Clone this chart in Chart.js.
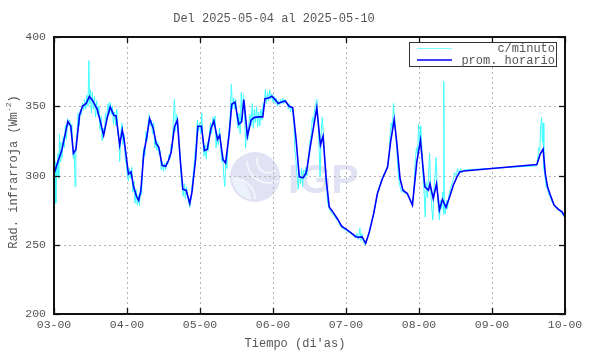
<!DOCTYPE html>
<html><head><meta charset="utf-8">
<script src="https://cdn.jsdelivr.net/npm/chart.js@4"></script>
<style>html,body{margin:0;padding:0;background:#fff}#wrap{width:590px;height:354px}</style>
</head><body><div id="wrap"><canvas id="c" width="590" height="354"></canvas></div>
<script>
const titleText = "Del 2025-05-04 al 2025-05-10";
const xTitle = "Tiempo (di'as)";
const yTitleMain = "Rad. infrarroja (Wm";
const yTitleSup = "-2";
const yTitleEnd = ")";
const legendLabels = ["c/minuto", "prom. horario"];
const xTickDays = [3,4,5,6,7,8,9,10];
const yTickVals = [200,250,300,350,400];

const hourlyDays = [3.00,3.045,3.106,3.15,3.19,3.23,3.266,3.30,3.35,3.39,3.44,3.485,3.53,3.59,3.63,3.68,3.73,3.77,3.82,3.85,3.90,3.935,3.96,4.02,4.055,4.09,4.13,4.16,4.19,4.23,4.275,4.31,4.36,4.40,4.435,4.48,4.53,4.57,4.605,4.65,4.69,4.73,4.765,4.81,4.86,4.89,4.94,4.97,5.02,5.06,5.10,5.15,5.19,5.24,5.27,5.315,5.35,5.40,5.435,5.48,5.53,5.57,5.60,5.65,5.70,5.74,5.80,5.86,5.89,5.94,5.985,6.03,6.07,6.12,6.17,6.22,6.27,6.315,6.36,6.41,6.45,6.466,6.51,6.56,6.60,6.65,6.686,6.73,6.77,6.82,6.88,6.94,7.02,7.07,7.13,7.17,7.22,7.27,7.32,7.38,7.43,7.50,7.57,7.61,7.66,7.69,7.74,7.78,7.84,7.91,7.97,8.02,8.08,8.13,8.15,8.195,8.24,8.28,8.32,8.37,8.42,8.47,8.52,8.56,8.61,9.615,9.66,9.70,9.73,9.76,9.80,9.85,9.91,9.96,10.0];
const hourlyVals = [301,308.6,318,329,339,335.6,316,318.8,343.5,350,352,357,354,348,340,329,342,349.5,343.5,343,322,333,326,301,302.6,292,285,282,289,316,329,341,334,323,320.6,307.4,306.7,311,317,335,340,311,290,289.4,280,288,312,335.6,335.6,318,318.8,334,339.4,326,329,311.5,309,330,351.4,353,337,338.7,354.8,328.4,340,341.8,342.3,342.3,355.5,356,357.2,354.8,352,353,353.8,350,349,326.7,299,298.3,301.4,305,320.6,336.3,349,322,328.4,296.6,277.3,273.7,269,263.4,260.5,258.6,256,255.3,255.7,251,259.3,272.6,287,297.8,306.2,324,340.4,326.7,297.8,289.4,287,278.6,309.8,325.5,291.8,289.4,294,283.4,294,275,282.7,277,284.6,293,299,302.6,303.3,307.9,315.4,319,301.4,291.8,285.8,278.6,275.5,273.7,270];

const minuteDays = [3.000,3.008,3.015,3.025,3.035,3.045,3.055,3.065,3.075,3.085,3.095,3.110,3.125,3.140,3.155,3.170,3.185,3.200,3.215,3.230,3.245,3.255,3.266,3.278,3.289,3.300,3.315,3.330,3.345,3.360,3.375,3.390,3.405,3.420,3.435,3.450,3.465,3.478,3.488,3.500,3.512,3.525,3.540,3.555,3.570,3.585,3.600,3.615,3.630,3.645,3.660,3.675,3.690,3.705,3.720,3.740,3.755,3.770,3.785,3.800,3.815,3.830,3.845,3.860,3.875,3.890,3.900,3.915,3.930,3.945,3.960,3.975,3.990,4.005,4.020,4.035,4.050,4.065,4.080,4.095,4.110,4.125,4.140,4.155,4.170,4.185,4.200,4.215,4.230,4.245,4.260,4.275,4.290,4.305,4.320,4.335,4.350,4.365,4.380,4.395,4.410,4.425,4.440,4.455,4.470,4.485,4.500,4.515,4.530,4.545,4.560,4.575,4.590,4.605,4.620,4.635,4.650,4.665,4.680,4.695,4.710,4.725,4.740,4.755,4.770,4.785,4.800,4.815,4.830,4.845,4.860,4.875,4.890,4.905,4.920,4.935,4.950,4.965,4.980,4.995,5.010,5.025,5.040,5.055,5.070,5.085,5.100,5.115,5.130,5.145,5.160,5.175,5.190,5.205,5.220,5.235,5.250,5.265,5.280,5.295,5.310,5.325,5.340,5.355,5.370,5.385,5.400,5.415,5.430,5.445,5.460,5.475,5.490,5.505,5.520,5.535,5.550,5.565,5.580,5.595,5.610,5.625,5.640,5.655,5.670,5.685,5.700,5.715,5.730,5.745,5.760,5.775,5.790,5.805,5.820,5.835,5.850,5.865,5.880,5.895,5.910,5.925,5.940,5.955,5.970,5.985,6.000,6.015,6.030,6.045,6.060,6.075,6.090,6.105,6.120,6.135,6.150,6.165,6.180,6.195,6.210,6.225,6.240,6.255,6.270,6.285,6.300,6.315,6.330,6.345,6.360,6.375,6.390,6.405,6.420,6.435,6.450,6.465,6.480,6.495,6.510,6.525,6.540,6.555,6.570,6.585,6.600,6.615,6.630,6.645,6.660,6.675,6.690,6.705,6.720,6.735,6.750,6.770,6.790,6.810,6.830,6.850,6.870,6.890,6.910,6.930,6.950,6.980,7.010,7.040,7.070,7.100,7.130,7.150,7.170,7.190,7.205,7.220,7.240,7.260,7.280,7.300,7.330,7.360,7.390,7.420,7.450,7.480,7.510,7.540,7.570,7.590,7.605,7.620,7.635,7.650,7.665,7.680,7.695,7.710,7.725,7.740,7.760,7.780,7.800,7.820,7.840,7.870,7.895,7.910,7.930,7.950,7.965,7.980,7.995,8.010,8.025,8.040,8.055,8.070,8.085,8.100,8.115,8.130,8.145,8.160,8.175,8.190,8.205,8.220,8.235,8.250,8.265,8.280,8.295,8.310,8.325,8.335,8.340,8.345,8.360,8.375,8.390,8.410,8.430,8.450,8.470,8.490,8.510,8.530,8.550,8.570,8.590,8.610,9.610,9.625,9.640,9.655,9.665,9.680,9.690,9.700,9.710,9.725,9.740,9.760,9.780,9.800,9.830,9.860,9.890,9.920,9.950,9.980,10.000];
const minuteVals = [318,290,310,280,305,300,316,298,330,310,324,313,328,320,336,326,341,336,340,332,337,322,312,318,292,322,330,345,336,348,344,352,347,355,348,358,350,383,352,362,345,360,348,357,342,354,344,350,333,343,325,334,330,345,338,352,344,353,344,350,337,346,336,348,330,326,310,330,338,322,330,312,308,300,296,305,298,306,288,296,280,290,279,286,278,292,286,312,320,314,332,325,338,344,336,340,330,338,320,326,318,324,315,318,304,310,303,309,304,310,308,315,312,322,320,340,355,332,344,338,325,316,300,292,285,294,283,292,286,280,277,283,292,300,308,318,326,340,332,338,330,345,325,314,322,312,324,318,330,338,330,342,336,343,320,330,322,334,325,310,316,300,292,312,305,325,334,345,366,348,356,348,355,342,334,345,330,360,340,358,346,320,334,326,338,344,336,352,334,348,338,350,335,346,336,348,340,352,350,362,352,360,354,362,355,359,353,357,352,356,350,354,351,355,352,356,352,355,352,352,348,352,346,350,346,340,318,310,300,290,302,294,305,292,304,298,306,300,312,318,326,330,342,338,348,352,355,340,322,299,330,342,330,315,300,290,280,276,274,272,272,270,268,268,265,263,262,261,260,259,258,257,255,258,254,262,253,258,252,250,253,256,262,268,276,284,291,296,300,303,307,314,330,338,333,352,342,330,320,305,296,292,288,289,287,288,286,283,280,278,290,312,320,316,337,322,336,318,300,288,270,295,284,300,316,290,276,268,290,300,313,290,276,268,282,276,288,272,368,280,272,282,276,286,290,294,297,302,300,305,301,305,302,304,307,312,320,318,334,342,324,338,305,300,292,290,286,284,280,278,276,275,273,271,269];

const FONT = "'Liberation Mono', 'DejaVu Sans Mono', monospace";
const TXT = '#555';

function seg(ctx,x1,y1,x2,y2){ctx.beginPath();ctx.moveTo(x1,y1);ctx.lineTo(x2,y2);ctx.stroke();}

const deco = {
  id: 'deco',
  beforeDatasetsDraw(chart){
    const {ctx, chartArea:a, scales:{x,y}} = chart;
    ctx.save();
    const cx = 255, cy = 177, r = 25;
    ctx.fillStyle = '#e2e2f5';
    ctx.beginPath(); ctx.arc(cx,cy,r,0,Math.PI*2); ctx.fill();
    ctx.fillStyle = '#ebf2fc';
    ctx.beginPath(); ctx.moveTo(cx-r+2,cy-2); ctx.arc(cx,cy,r-2,Math.PI*0.95,Math.PI*0.55,true); ctx.quadraticCurveTo(cx-6,cy+4,cx-r+2,cy-2); ctx.fill();
    ctx.strokeStyle = '#f3f5fd'; ctx.lineWidth = 2;
    ctx.beginPath(); ctx.arc(cx+14,cy-16,12,Math.PI*0.3,Math.PI*1.1); ctx.stroke();
    ctx.beginPath(); ctx.arc(cx+14,cy-16,22,Math.PI*0.35,Math.PI*1.0); ctx.stroke();
    ctx.beginPath(); ctx.arc(cx-20,cy+22,20,Math.PI*1.5,Math.PI*2.0); ctx.stroke();
    ctx.fillStyle = '#e2e2f5';
    ctx.font = "bold 41px 'Liberation Sans', Arial, sans-serif";
    ctx.textAlign = 'left'; ctx.textBaseline = 'alphabetic';
    ctx.fillText('IGP', 288, 193);
    ctx.strokeStyle = '#b4b4b4'; ctx.lineWidth = 1; ctx.setLineDash([2,3]);
    xTickDays.forEach(d => { if (d > 3 && d < 10) { const px = Math.round(x.getPixelForValue(d)) + 0.5; seg(ctx,px,a.top,px,a.bottom); } });
    yTickVals.forEach(v => { if (v > 200 && v < 400) { const py = Math.round(y.getPixelForValue(v)) + 0.5; seg(ctx,a.left,py,a.right,py); } });
    ctx.restore();
  },
  afterDatasetsDraw(chart){
    const {ctx, chartArea:a, scales:{x,y}} = chart;
    ctx.save();
    ctx.setLineDash([]);
    ctx.strokeStyle = '#111'; ctx.lineWidth = 2;
    ctx.strokeRect(a.left, a.top, a.right - a.left, a.bottom - a.top);
    ctx.lineWidth = 1.3;
    xTickDays.forEach(d => { const px = Math.round(x.getPixelForValue(d)) + 0.5; seg(ctx,px,a.bottom,px,a.bottom-6); seg(ctx,px,a.top,px,a.top+6); });
    yTickVals.forEach(v => { const py = Math.round(y.getPixelForValue(v)) + 0.5; seg(ctx,a.left,py,a.left+6,py); seg(ctx,a.right,py,a.right-6,py); });
    ctx.fillStyle = '#fff';
    ctx.fillRect(409.5, 42.5, 147, 24);
    ctx.strokeStyle = '#333'; ctx.lineWidth = 1;
    ctx.strokeRect(409.5, 42.5, 147, 24);
    ctx.lineWidth = 1; ctx.strokeStyle = '#7fffff'; seg(ctx,417,48.5,452,48.5);
    ctx.lineWidth = 1.6; ctx.strokeStyle = '#0000ff'; seg(ctx,417,60,452,60);
    ctx.fillStyle = TXT; ctx.font = '12px ' + FONT; ctx.textAlign = 'right'; ctx.textBaseline = 'middle';
    ctx.fillText(legendLabels[0], 555, 48.5);
    ctx.fillText(legendLabels[1], 555, 60.5);
    ctx.font = '11.5px ' + FONT;
    ctx.textAlign = 'center'; ctx.textBaseline = 'middle';
    xTickDays.forEach(d => { ctx.fillText(String(d).padStart(2,'0') + '-00', x.getPixelForValue(d), 325); });
    ctx.textAlign = 'right';
    yTickVals.forEach(v => { ctx.fillText(String(v), 46, y.getPixelForValue(v)); });
    ctx.font = '12px ' + FONT; ctx.textAlign = 'center';
    ctx.fillText(titleText, 274, 19);
    ctx.fillText(xTitle, 295, 344);
    ctx.save();
    ctx.translate(14, 172); ctx.rotate(-Math.PI/2);
    ctx.textAlign = 'left';
    ctx.font = '12px ' + FONT; const w1 = ctx.measureText(yTitleMain).width; const w3 = ctx.measureText(yTitleEnd).width;
    ctx.font = '8px ' + FONT; const w2 = ctx.measureText(yTitleSup).width;
    let sx = -(w1 + w2 + w3) / 2;
    ctx.font = '12px ' + FONT; ctx.fillText(yTitleMain, sx, 0); sx += w1;
    ctx.font = '8px ' + FONT; ctx.fillText(yTitleSup, sx, -5); sx += w2;
    ctx.font = '12px ' + FONT; ctx.fillText(yTitleEnd, sx, 0);
    ctx.restore();
    ctx.restore();
  }
};

new Chart(document.getElementById('c'), {
  type: 'line',
  data: {
    datasets: [
      { label: legendLabels[1], data: hourlyDays.map((d,i)=>({x:d, y:hourlyVals[i]})), borderColor: '#0000ff', borderWidth: 1.6, pointRadius: 0, tension: 0, fill: false },
      { label: legendLabels[0], data: minuteDays.map((d,i)=>({x:d, y:minuteVals[i]})), borderColor: '#40ffff', borderWidth: 1, pointRadius: 0, tension: 0, fill: false }
    ]
  },
  options: {
    responsive: false, animation: false, devicePixelRatio: 1,
    layout: { padding: { left: 54, right: 25, top: 37, bottom: 40 } },
    plugins: { legend: { display: false }, title: { display: false }, tooltip: { enabled: false } },
    scales: {
      x: { type: 'linear', min: 3, max: 10, display: false },
      y: { type: 'linear', min: 200, max: 400, display: false }
    }
  },
  plugins: [deco]
});
</script>
</body></html>
